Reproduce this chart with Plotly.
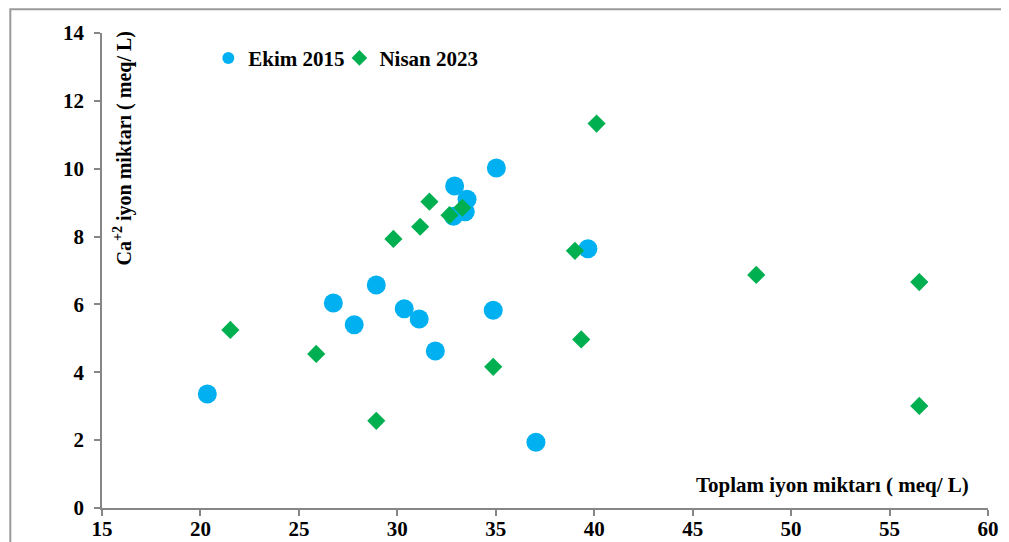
import plotly.graph_objects as go

ekim_x = [20.35, 26.75, 27.81, 28.93, 30.35, 31.11, 31.93, 32.91, 33.54, 33.45, 32.85, 35.03, 34.87, 37.04, 39.68]
ekim_y = [3.36, 6.04, 5.40, 6.57, 5.87, 5.57, 4.63, 9.49, 9.10, 8.73, 8.60, 10.02, 5.83, 1.94, 7.64]

nisan_x = [21.52, 25.88, 28.93, 29.80, 31.16, 31.63, 32.65, 33.30, 34.87, 39.02, 39.34, 40.12, 48.23, 56.51, 56.51]
nisan_y = [5.25, 4.54, 2.57, 7.93, 8.29, 9.03, 8.63, 8.85, 4.16, 7.58, 4.97, 11.33, 6.87, 6.66, 3.01]

series_names = ["Ekim 2015", "Nisan 2023"]
x_title = "Toplam iyon miktarı ( meq/ L)"
y_title = "Ca<sup>+2</sup> iyon miktarı ( meq/ L)"

FONT = "Liberation Serif, Times New Roman, serif"
legend_font = dict(family=FONT, size=21, color="black", weight="bold")

fig = go.Figure()
fig.add_trace(go.Scatter(
    x=ekim_x, y=ekim_y, mode="markers", name=series_names[0], legend="legend",
    marker=dict(symbol="circle", size=19, color="#00B0F0", line=dict(width=0)),
))
fig.add_trace(go.Scatter(
    x=nisan_x, y=nisan_y, mode="markers", name=series_names[1], legend="legend2",
    marker=dict(symbol="diamond", size=14, color="#00B050", line=dict(width=0)),
))

axis_common = dict(
    showgrid=False, zeroline=False, showline=True, linecolor="#868686", linewidth=1.5,
    ticks="outside", ticklen=6, tickcolor="#868686", tickwidth=1.5, automargin=False,
    tickfont=dict(family=FONT, size=21, color="black", weight="bold"),
)

fig.update_xaxes(range=[15, 60], dtick=5, tick0=15, ticklabelstandoff=-5, **axis_common)
fig.update_yaxes(range=[0, 14], dtick=2, tick0=0, ticklabelstandoff=6, **axis_common)

fig.update_layout(
    width=1001, height=534,
    margin=dict(l=94, r=21, t=25, b=34, autoexpand=False),
    paper_bgcolor="white", plot_bgcolor="white",
    showlegend=True,
    legend=dict(
        orientation="h", x=0.12, y=0.99, xanchor="left", yanchor="top",
        font=legend_font, bgcolor="rgba(0,0,0,0)", itemwidth=30, itemsizing="constant",
    ),
    legend2=dict(
        orientation="h", x=0.268, y=0.99, xanchor="left", yanchor="top",
        font=legend_font, bgcolor="rgba(0,0,0,0)", itemwidth=30, itemsizing="constant",
    ),
    annotations=[
        dict(text=x_title, xref="paper", yref="paper", x=0.824, y=0.049,
             xanchor="center", yanchor="middle", showarrow=False,
             font=dict(family=FONT, size=21, color="black", weight="bold")),
        dict(text=y_title, xref="paper", yref="paper", x=0.0229, y=0.7576,
             xanchor="center", yanchor="middle", showarrow=False, textangle=-90,
             font=dict(family=FONT, size=20, color="black", weight="bold")),
    ],
    shapes=[
        dict(type="rect", xref="paper", yref="paper", x0=-0.1035, x1=1.0226,
             y0=-0.2, y1=1.0498, line=dict(color="#9a9a9a", width=2),
             fillcolor="rgba(0,0,0,0)", layer="above"),
    ],
)

fig.write_html("out.html")
